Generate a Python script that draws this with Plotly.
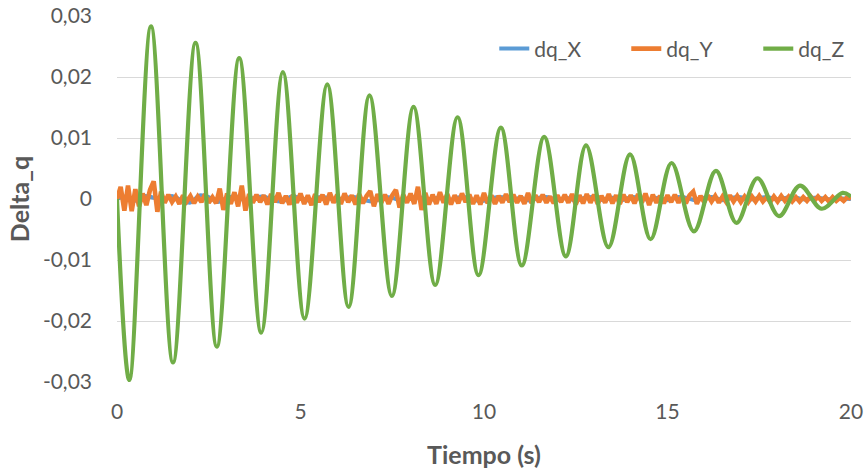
import plotly.graph_objects as go

# ---- data ----
# dq_Z: extrema of the damped oscillation (time s, value)
z_t = [0.0, 0.335, 0.926, 1.525, 2.14, 2.72, 3.33, 3.93, 4.52, 5.11, 5.73, 6.31,
       6.88, 7.49, 8.08, 8.67, 9.28, 9.85, 10.46, 11.03, 11.64, 12.23, 12.78,
       13.39, 13.98, 14.54, 15.11, 15.72, 16.32, 16.88, 17.45, 18.04, 18.61,
       19.2, 19.77, 20.0]
z_v = [0.0, -0.0297, 0.0283, -0.0268, 0.0256, -0.0242, 0.0231, -0.0219, 0.0208,
       -0.0196, 0.0188, -0.0177, 0.0170, -0.0159, 0.0151, -0.0141, 0.0134,
       -0.0125, 0.0117, -0.0109, 0.0102, -0.0094, 0.0088, -0.0079, 0.0073,
       -0.0066, 0.0059, -0.0053, 0.0046, -0.0039, 0.0034, -0.0028, 0.0022,
       -0.0016, 0.0010, 0.0004]

# dq_Y: samples every 0.1 s, in thousandths
y_t = [i / 10 for i in range(201)]
y_milli = [
    0.0, 2.0, -1.9, 2.2, -2.0, 1.6, -1.2, 0.9, -1.0, 1.5,
    2.9, -2.1, 1.2, -0.6, 0.7, -0.5, 0.4, -0.8, 0.6, -0.4,
    0.5, -0.7, 0.4, -0.5, 0.8, -0.6, 0.3, -0.7, 1.7, -1.8,
    0.9, -0.8, 1.1, -1.2, 2.2, -1.9, 0.8, -0.6, 0.7, -0.5,
    0.6, -0.9, 0.8, -0.5, 1.0, -0.7, 0.5, -0.9, 0.7, -0.6,
    0.9, -0.8, 0.6, -1.0, 0.8, -0.5, 0.7, -0.9, 1.0, -0.6,
    0.7, -0.8, 0.9, -0.5, 0.6, -0.9, 0.8, -0.7, 0.5, 1.3,
    -1.2, 0.8, -0.6, 0.7, -0.8, 0.6, 1.5, -1.4, 0.7, -0.6,
    0.9, -0.8, 2.0, -1.8, 1.0, -0.9, 0.7, -0.8, 1.1, -0.6,
    0.8, -0.9, 0.6, -0.7, 0.9, -0.5, 0.7, -0.8, 0.6, -0.9,
    1.0, -0.7, 0.6, -0.8, 0.5, -0.6, 0.8, -0.5, 0.7, -0.6,
    0.5, -0.8, 1.0, -0.7, 0.6, -0.5, 0.7, -0.6, 0.4, -0.7,
    0.6, -0.5, 0.7, -0.6, 0.8, -0.9, 0.6, -0.7, 0.8, -0.6,
    0.7, -0.8, 0.5, -0.6, 0.8, -0.7, 0.6, -0.8, 0.7, -0.5,
    0.6, -0.7, 0.8, -0.6, 0.9, -1.0, 0.7, -0.6, 0.5, -0.7,
    0.6, -0.5, 0.7, -0.6, 0.5, -0.7, 0.6, 1.2, -0.8, 0.5,
    -0.5, 0.6, -0.4, 0.5, -0.6, 0.4, -0.5, 0.6, -0.4, 0.5,
    -0.5, 0.4, -0.5, 0.4, -0.4, 0.5, -0.4, 0.3, -0.5, 0.4,
    -0.4, 0.5, -0.3, 0.4, -0.4, 0.3, -0.4, 0.3, -0.3, 0.4,
    -0.3, 0.4, -0.3, 0.3, -0.4, 0.3, -0.3, 0.2, -0.3, 0.3,
    0.0]

# dq_X: samples every 0.25 s, in thousandths
x_t = [i / 4 for i in range(81)]
x_milli = [
    0.0, 0.4, -0.3, 0.5, 0.2, -0.2, 0.5, -0.2, -0.6, 0.6,
    0.3, -0.5, 0.2, 0.4, -0.3, 0.2, 0.4, -0.2, -0.4, 0.4,
    0.2, -0.3, 0.3, 0.2, -0.3, 0.2, 0.3, -0.2, -0.4, 0.3,
    0.2, -0.3, 0.2, 0.3, -0.2, 0.2, -0.3, 0.2, 0.3, -0.2,
    -0.3, 0.2, 0.3, -0.2, 0.2, -0.3, 0.2, 0.3, -0.2, 0.2,
    -0.3, 0.2, 0.3, -0.2, 0.2, -0.2, 0.3, 0.2, -0.2, 0.2,
    -0.2, 0.3, 0.2, -0.2, 0.2, 0.3, -0.2, 0.2, 0.3, -0.1,
    0.2, 0.3, -0.1, 0.2, 0.2, -0.1, 0.2, 0.1, -0.1, 0.1,
    0.0]

x_ticks = [0, 5, 10, 15, 20]
x_ticktext = ["0", "5", "10", "15", "20"]
y_ticks = [-0.03, -0.02, -0.01, 0, 0.01, 0.02, 0.03]
y_ticktext = ["-0,03", "-0,02", "-0,01", "0", "0,01", "0,02", "0,03"]

names = ["dq_X", "dq_Y", "dq_Z"]
colors = ["#5B9BD5", "#ED7D31", "#70AD47"]

dq_x = [v / 1000 for v in x_milli]
dq_y = [v / 1000 for v in y_milli]

FONT = "Lato"
GREY = "#595959"

fig = go.Figure()
fig.add_trace(go.Scatter(x=x_t, y=dq_x, name=names[0], mode="lines",
                         line=dict(color=colors[0], width=4, shape="spline")))
fig.add_trace(go.Scatter(x=y_t, y=dq_y, name=names[1], mode="lines",
                         line=dict(color=colors[1], width=4.6)))
fig.add_trace(go.Scatter(x=z_t, y=z_v, name=names[2], mode="lines",
                         line=dict(color=colors[2], width=4.2, shape="spline")))

fig.update_layout(
    width=867, height=471,
    margin=dict(l=117, r=16, t=16, b=89, autoexpand=False),
    paper_bgcolor="white", plot_bgcolor="white",
    font=dict(family=FONT, size=21, color=GREY),
    separators=",.",
    showlegend=True,
    legend=dict(orientation="h", x=0.514, xanchor="left", y=0.91, yanchor="middle",
                bgcolor="rgba(0,0,0,0)", font=dict(size=21, color=GREY),
                entrywidth=87, entrywidthmode="pixels", tracegroupgap=0),
)
fig.update_xaxes(
    range=[0, 20], tickvals=x_ticks, ticktext=x_ticktext,
    showgrid=False, zeroline=False, showline=False, automargin=False,
    ticks="", ticklabelstandoff=15,
    tickfont=dict(size=21, color=GREY),
    title=dict(text="<b>Tiempo (s)</b>", font=dict(size=25, color=GREY), standoff=24),
)
fig.update_yaxes(
    range=[-0.03, 0.03], tickvals=y_ticks, ticktext=y_ticktext,
    showgrid=True, gridcolor="#D9D9D9", gridwidth=1.3,
    zeroline=False, showline=False, automargin=False,
    ticks="", ticklabelstandoff=24,
    tickfont=dict(size=21, color=GREY),
    title=dict(text="<b>Delta_q</b>", font=dict(size=25, color=GREY), standoff=6),
)

fig.write_html("out.html", config={"displayModeBar": False},
               post_script="document.body.style.margin='0px';")
